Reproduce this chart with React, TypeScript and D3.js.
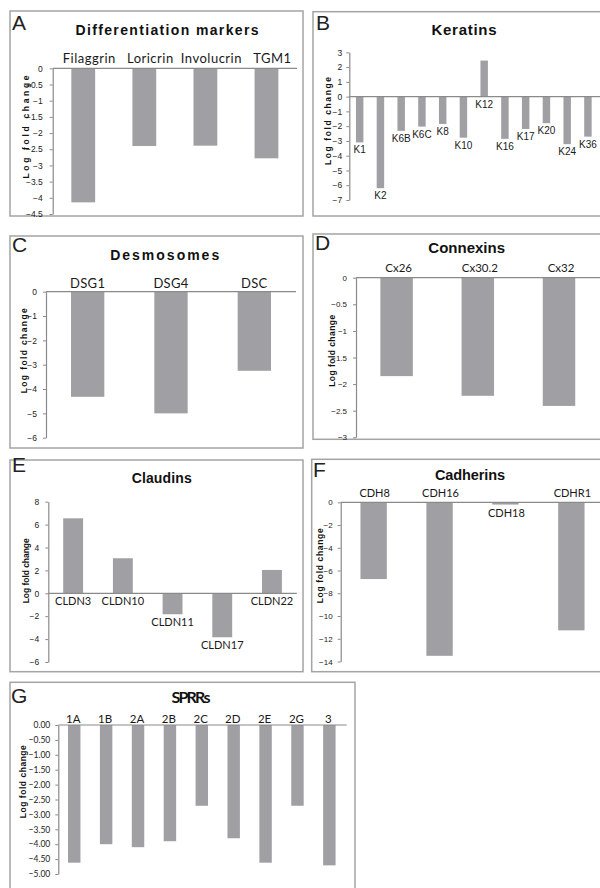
import React, { useEffect, useRef } from "react";
import * as d3 from "d3";

// A - differentiation markers
const diffCategories = ["Filaggrin", "Loricrin", "Involucrin", "TGM1"];
const diffValues = [-4.14, -2.4, -2.39, -2.78];
const diffTicks = [0, -0.5, -1, -1.5, -2, -2.5, -3, -3.5, -4, -4.5];

// B - keratins
const keratinCategories = ["K1", "K2", "K6B", "K6C", "K8", "K10", "K12", "K16", "K17", "K20", "K24", "K36"];
const keratinValues = [-3.1, -6.2, -2.32, -2.03, -1.85, -2.78, 2.44, -2.86, -2.19, -1.8, -3.22, -2.71];
const keratinTicks = [3, 2, 1, 0, -1, -2, -3, -4, -5, -6, -7];

// C - desmosomes
const desmoCategories = ["DSG1", "DSG4", "DSC"];
const desmoValues = [-4.32, -5.0, -3.25];
const desmoTicks = [0, -1, -2, -3, -4, -5, -6];

// D - connexins
const connexinCategories = ["Cx26", "Cx30.2", "Cx32"];
const connexinValues = [-1.85, -2.22, -2.41];
const connexinTicks = [0, -0.5, -1, -1.5, -2, -2.5, -3];

// E - claudins
const claudinCategories = ["CLDN3", "CLDN10", "CLDN11", "CLDN17", "CLDN22"];
const claudinValues = [6.55, 3.06, -1.83, -3.84, 2.04];
const claudinTicks = [8, 6, 4, 2, 0, -2, -4, -6];

// F - cadherins
const cadherinCategories = ["CDH8", "CDH16", "CDH18", "CDHR1"];
const cadherinValues = [-6.75, -13.5, -0.2, -11.26];
const cadherinTicks = [0, -2, -4, -6, -8, -10, -12, -14];

// G - SPRRs
const sprrCategories = ["1A", "1B", "2A", "2B", "2C", "2D", "2E", "2G", "3"];
const sprrValues = [-4.62, -4.0, -4.1, -3.9, -2.71, -3.8, -4.62, -2.71, -4.71];
const sprrTicks = [0, -0.5, -1, -1.5, -2, -2.5, -3, -3.5, -4, -4.5, -5];

const ARIAL = "'Liberation Sans', Arial, sans-serif";
const NARROW = "'Liberation Sans Narrow', 'Liberation Sans', Arial, sans-serif";
const CALIBRI = "Lato, 'Open Sans', sans-serif";
const BAR = "#a0a0a4";
const AXIS = "#8a8a8a";
const BORDER = "#a4a4a4";

const panels = [
  {
    letter: "A", box: [10, 11, 303, 216], letterPos: [12, 30],
    title: "Differentiation markers", titlePos: [167, 35], titleSize: 14, titleLen: 183, titleFont: ARIAL,
    categories: diffCategories, values: diffValues, ticks: diffTicks, fmt: d3.format(""),
    plotX: [52.7, 297], plotY: [68.3, 214], zeroEnd: 297, pad: 0.61,
    labelMode: "top", labelY: 63, labelSize: 13, labelSpacing: 0.5, labelFont: CALIBRI, labelDx: 6,
    yLabel: [29, 127, 103], tickFont: NARROW, tickSize: 8.5, tickPad: 7,
  },
  {
    letter: "B", box: [313, 11.7, 640, 216], letterPos: [316, 30],
    title: "Keratins", titlePos: [464, 35], titleSize: 15, titleLen: 65, titleFont: ARIAL,
    categories: keratinCategories, values: keratinValues, ticks: keratinTicks, fmt: d3.format(""),
    plotX: [349.3, 598.3], plotY: [52.3, 200], zeroEnd: 600, pad: 0.64,
    labelMode: "end", labelOffset: 11, labelSize: 10, labelSpacing: 0, labelFont: ARIAL, labelDx: 0,
    yLabel: [331, 121, 88], tickFont: NARROW, tickSize: 8.5, tickPad: 4,
  },
  {
    letter: "C", box: [10, 236, 303, 448], letterPos: [12, 251.7],
    title: "Desmosomes", titlePos: [164.7, 260], titleSize: 14, titleLen: 109, titleFont: ARIAL,
    categories: desmoCategories, values: desmoValues, ticks: desmoTicks, fmt: d3.format(""),
    plotX: [46, 296], plotY: [291.7, 437.7], zeroEnd: 296, pad: 0.6,
    labelMode: "top", labelY: 287.7, labelSize: 13, labelSpacing: 0.3, labelFont: CALIBRI, labelDx: 0,
    yLabel: [27, 350.8, 85], tickFont: NARROW, tickSize: 8.5, tickPad: 6,
  },
  {
    letter: "D", box: [313, 234, 640, 439.3], letterPos: [315, 250],
    title: "Connexins", titlePos: [466.7, 253.3], titleSize: 15, titleLen: 76.7, titleFont: ARIAL,
    categories: connexinCategories, values: connexinValues, ticks: connexinTicks, fmt: d3.format(""),
    plotX: [356, 599.6], plotY: [277.7, 437.3], zeroEnd: 600, pad: 0.6,
    labelMode: "top", labelY: 271.7, labelSize: 11.5, labelSpacing: 0, labelFont: CALIBRI, labelDx: 2,
    yLabel: [335, 350.8, 72], tickFont: NARROW, tickSize: 8, tickPad: 6,
  },
  {
    letter: "E", box: [10, 460, 303, 671.7], letterPos: [12, 471.7],
    title: "Claudins", titlePos: [161.7, 483.3], titleSize: 14, titleLen: 60, titleFont: ARIAL,
    categories: claudinCategories, values: claudinValues, ticks: claudinTicks, fmt: d3.format(""),
    plotX: [48.3, 296.8], plotY: [501.7, 662], zeroEnd: 296.8, pad: 0.6,
    labelMode: "end", labelOffset: 12, labelSize: 11, labelSpacing: 0, labelFont: CALIBRI, labelDx: 0,
    yLabel: [28.5, 570.8, 65], tickFont: NARROW, tickSize: 8.5, tickPad: 6,
  },
  {
    letter: "F", box: [311.7, 459.3, 640, 671.7], letterPos: [313, 477],
    title: "Cadherins", titlePos: [470, 480], titleSize: 14.5, titleLen: 70, titleFont: ARIAL,
    categories: cadherinCategories, values: cadherinValues, ticks: cadherinTicks, fmt: d3.format(""),
    plotX: [340.7, 604.3], plotY: [502.3, 661.5], zeroEnd: 600, pad: 0.6,
    labelMode: "top", labelY: 496.7, labelOffset: 12.4, below: ["CDH18"],
    labelSize: 11, labelSpacing: 0, labelFont: CALIBRI, labelDx: 1,
    yLabel: [323, 565.8, 75], tickFont: NARROW, tickSize: 8, tickPad: 5,
  },
  {
    letter: "G", box: [10, 682.3, 355, 900], letterPos: [11, 702.7],
    title: "SPRRs", titlePos: [191, 703.3], titleSize: 16, titleLen: 39, titleFont: CALIBRI,
    categories: sprrCategories, values: sprrValues, ticks: sprrTicks, fmt: d3.format(".2f"),
    plotX: [58.3, 345.3], plotY: [725, 874], zeroEnd: 346.7, pad: 0.61,
    labelMode: "top", labelY: 722.7, labelSize: 11.5, labelSpacing: 0, labelFont: CALIBRI, labelDx: -1,
    yLabel: [25.5, 781.7, 73], tickFont: CALIBRI, tickSize: 8.5, tickPad: 5,
  },
];

function drawPanel(root, p) {
  const g = root.append("g");
  const [bx0, by0, bx1, by1] = p.box;

  g.append("rect")
    .attr("x", bx0).attr("y", by0)
    .attr("width", bx1 - bx0).attr("height", by1 - by0)
    .attr("fill", "white").attr("stroke", BORDER).attr("stroke-width", 1.5);

  // panel letter
  g.append("text")
    .attr("x", p.letterPos[0]).attr("y", p.letterPos[1])
    .attr("font-family", ARIAL).attr("font-size", 21).attr("fill", "#222")
    .text(p.letter);

  // title
  g.append("text")
    .attr("x", p.titlePos[0] - p.titleLen / 2).attr("y", p.titlePos[1])
    .attr("font-family", p.titleFont).attr("font-weight", "bold")
    .attr("font-size", p.titleSize).attr("fill", "#111")
    .attr("textLength", p.titleLen).attr("lengthAdjust", "spacing")
    .text(p.title);

  const x = d3.scaleBand()
    .domain(p.categories)
    .range(p.plotX)
    .paddingInner(p.pad)
    .paddingOuter(p.pad / 2);

  const y = d3.scaleLinear()
    .domain([d3.min(p.ticks), d3.max(p.ticks)])
    .range([p.plotY[1], p.plotY[0]]);

  const rows = p.categories.map((c, i) => ({ cat: c, v: p.values[i] }));

  // bars
  g.selectAll("rect.bar")
    .data(rows)
    .enter()
    .append("rect")
    .attr("class", "bar")
    .attr("x", d => x(d.cat))
    .attr("y", d => y(Math.max(0, d.v)))
    .attr("width", x.bandwidth())
    .attr("height", d => Math.abs(y(d.v) - y(0)))
    .attr("fill", BAR);

  // zero line
  g.append("line")
    .attr("x1", p.plotX[0]).attr("x2", p.zeroEnd)
    .attr("y1", y(0)).attr("y2", y(0))
    .attr("stroke", AXIS).attr("stroke-width", 1.2);

  // y axis
  const ax = g.append("g")
    .attr("transform", `translate(${p.plotX[0]},0)`)
    .call(d3.axisLeft(y).tickValues(p.ticks).tickFormat(p.fmt).tickSize(3).tickSizeOuter(0).tickPadding(p.tickPad));
  ax.select(".domain").attr("stroke", AXIS).attr("stroke-width", 1.2);
  ax.selectAll(".tick line").attr("stroke", AXIS);
  ax.selectAll(".tick text")
    .attr("font-family", p.tickFont).attr("font-size", p.tickSize).attr("fill", "#222");

  // y label
  g.append("text")
    .attr("transform", `translate(${p.yLabel[0]},${p.yLabel[1]}) rotate(-90)`)
    .attr("x", -p.yLabel[2] / 2)
    .attr("font-family", ARIAL).attr("font-weight", "bold").attr("font-size", 8.5).attr("fill", "#111")
    .attr("textLength", p.yLabel[2]).attr("lengthAdjust", "spacing")
    .text("Log fold change");

  // category labels
  const below = p.below || [];
  g.selectAll("text.cat")
    .data(rows)
    .enter()
    .append("text")
    .attr("class", "cat")
    .attr("x", d => x(d.cat) + x.bandwidth() / 2 + p.labelDx)
    .attr("y", d => (p.labelMode === "top" && !below.includes(d.cat))
      ? p.labelY
      : y(Math.min(0, d.v)) + p.labelOffset)
    .attr("text-anchor", "middle")
    .attr("font-family", p.labelFont).attr("font-size", p.labelSize)
    .attr("letter-spacing", p.labelSpacing).attr("fill", "#1a1a1a")
    .text(d => d.cat);
}

const App = () => {
  const ref = useRef(null);

  useEffect(() => {
    const svg = d3.select(ref.current);
    svg.selectAll("*").remove();
    svg.append("rect").attr("width", 600).attr("height", 888).attr("fill", "white");
    panels.forEach(p => drawPanel(svg, p));
  }, []);

  return (
    <svg
      ref={ref}
      width={600}
      height={888}
      style={{ position: "absolute", left: 0, top: 0, display: "block" }}
    />
  );
};

export default App;
